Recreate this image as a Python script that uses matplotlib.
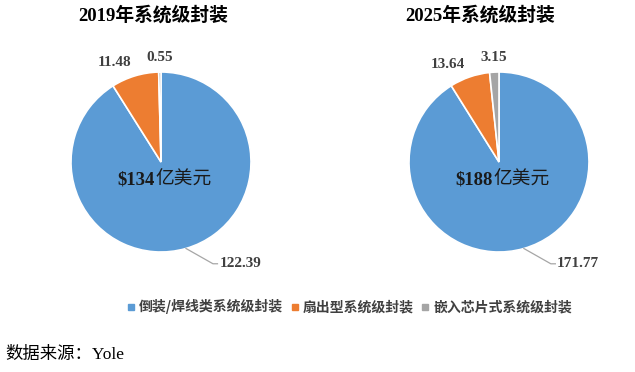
import numpy as np
import matplotlib.pyplot as plt
from matplotlib.lines import Line2D

years = ["2019", "2025"]
totals = ["$134", "$188"]
segments = ["倒装/焊线类系统级封装", "扇出型系统级封装", "嵌入芯片式系统级封装"]
values_2019 = [122.39, 11.48, 0.55]
values_2025 = [171.77, 13.64, 3.15]
colors = ["#5B9BD5", "#ED7D31", "#A5A5A5"]

W, H = 635, 372
fig = plt.figure(figsize=(W / 100, H / 100), dpi=100)
serif_cjk = ['Liberation Serif', 'Noto Sans CJK SC']
label_color = '#404040'


def draw_pie(cx, cy, r, title_x, year, total, values):
    ax = fig.add_axes([(cx - r) / W, (H - cy - r) / H, 2 * r / W, 2 * r / H])
    wedges, _ = ax.pie(values, colors=colors, startangle=90, counterclock=False,
                       radius=1, wedgeprops=dict(edgecolor='white', linewidth=1.2))
    ax.set_xlim(-1, 1)
    ax.set_ylim(-1, 1)
    ax.axis('off')

    for i, (w, v) in enumerate(zip(wedges, values)):
        ang = np.deg2rad((w.theta1 + w.theta2) / 2)
        txt = f"{v:.2f}"
        if i == 0:
            # leader line from edge, then a short horizontal tick
            x0, y0 = np.cos(ang), np.sin(ang)
            x1, y1 = x0 + 0.3, y0 - 0.17
            ax.plot([x0, x1, x1 + 0.05], [y0, y1, y1], color='#a6a6a6', lw=0.9,
                    clip_on=False)
            ax.text(x1 + 0.07, y1, txt, ha='left', va='center', fontsize=11,
                    fontweight='bold', family=serif_cjk, color=label_color)
        elif i == 1:
            ax.text(1.15 * np.cos(ang), 1.15 * np.sin(ang), txt, ha='right',
                    va='center', fontsize=11, fontweight='bold',
                    family=serif_cjk, color=label_color)
        else:
            ax.text(1.16 * np.cos(ang), 1.16 * np.sin(ang), txt, ha='center',
                    va='center', fontsize=11, fontweight='bold',
                    family=serif_cjk, color=label_color)

    ax.text(-0.065, -0.2, total.replace("$", "\\$"), ha='right', va='center',
            fontsize=13.5, fontweight='bold', family=serif_cjk, color='#1a1a1a')
    ax.text(-0.065, -0.2, "亿美元", ha='left', va='center', fontsize=13.5,
            family=serif_cjk, color='#1a1a1a')

    fig.text(title_x / W, 1 - 15 / H, year + "年系统级封装", ha='center', va='center',
             fontsize=13.5, fontweight='bold', family=serif_cjk, color='black')


draw_pie(161, 162, 90, 153, years[0], totals[0], values_2019)
draw_pie(499, 162, 90, 480, years[1], totals[1], values_2025)

handles = [Line2D([], [], marker='s', color=c, linestyle='none', markersize=4)
           for c in colors]
leg = fig.legend(handles, segments, loc='center', bbox_to_anchor=(0.551, 0.175),
                 ncol=3, frameon=False, handlelength=0.5, handletextpad=0.3,
                 columnspacing=0.6, labelcolor=label_color,
                 prop=dict(family=['Noto Sans CJK SC'], weight='bold', size=10))

fig.text(5 / W, 1 - 355 / H, "数据来源：Yole", ha='left', va='center',
         fontsize=12.5, family=serif_cjk, color='black')

fig.savefig("out.png", dpi=100)
